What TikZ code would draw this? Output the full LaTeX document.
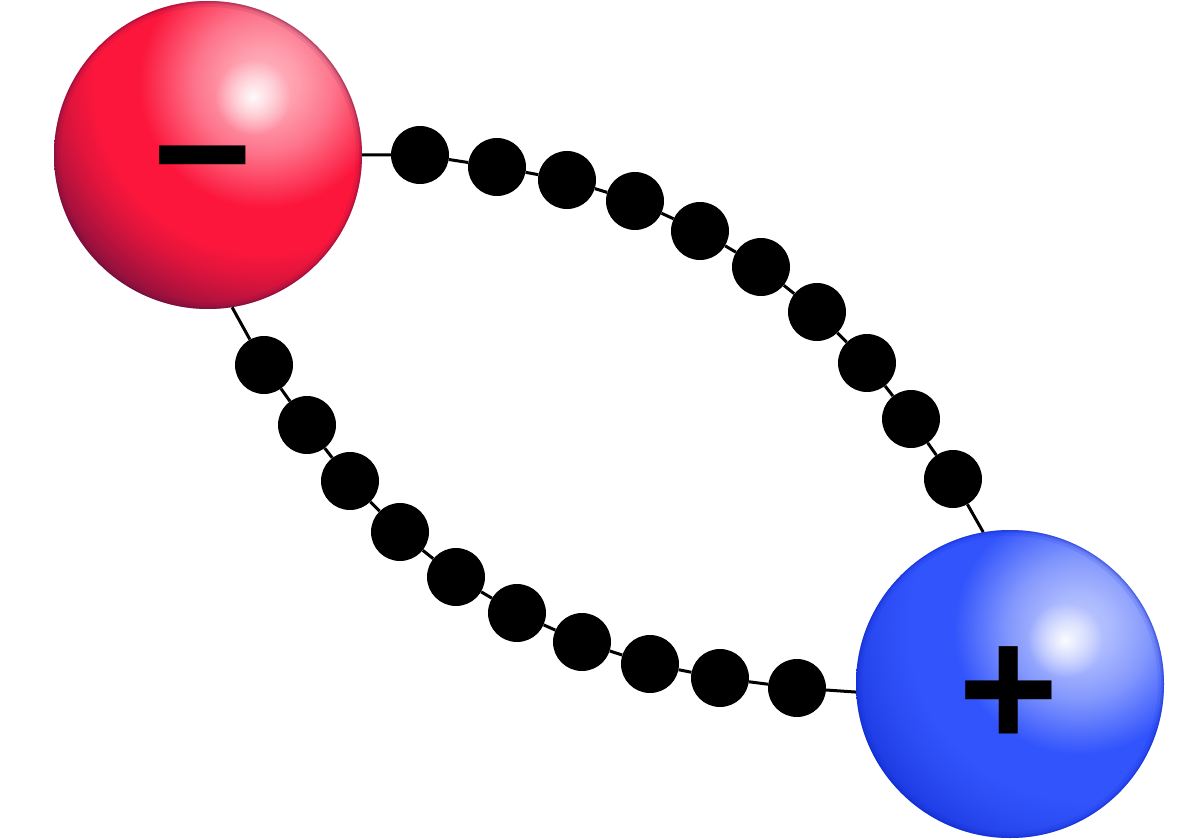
\documentclass[tikz,border=0pt]{standalone}
\usepackage{fontspec}
\usetikzlibrary{fadings}
\newfontfamily\signfont{Liberation Sans}
\definecolor{redmain}{RGB}{252,22,60}
\definecolor{reddark}{RGB}{96,14,62}
\definecolor{bluemain}{RGB}{50,84,252}
\definecolor{bluedark}{RGB}{10,34,200}
\pgfdeclareradialshading{redbase}{\pgfpointorigin}{%
  color(0bp)=(redmain!30!white); color(3.5bp)=(redmain!42!white); color(7bp)=(redmain!60!white);
  color(10bp)=(redmain!82!white); color(12.5bp)=(redmain); color(17bp)=(redmain);
  color(19.5bp)=(redmain!82!reddark); color(21.5bp)=(redmain!62!reddark); color(23.5bp)=(redmain!40!reddark);
  color(25bp)=(redmain!25!reddark); color(50bp)=(redmain!25!reddark)}
\pgfdeclareradialshading{bluebase}{\pgfpointorigin}{%
  color(0bp)=(bluemain!30!white); color(3.5bp)=(bluemain!42!white); color(7bp)=(bluemain!60!white);
  color(10bp)=(bluemain!82!white); color(12.5bp)=(bluemain); color(17bp)=(bluemain);
  color(19.5bp)=(bluemain!86!bluedark); color(21.5bp)=(bluemain!72!bluedark); color(23.5bp)=(bluemain!55!bluedark);
  color(25bp)=(bluemain!42!bluedark); color(50bp)=(bluemain!42!bluedark)}
\tikzfading[name=glow, inner color=transparent!0, outer color=transparent!100]
\tikzset{
  sphere/.style={circle, minimum size=308pt, inner sep=0pt},
  bead/.style={circle, fill=black, minimum size=58pt, inner sep=0pt},
  chain/.style={draw=black, line width=3pt},
  signlabel/.style={inner sep=0pt, text=black, font=\signfont\bfseries\fontsize{172}{172}\selectfont}
}
\begin{document}
\begin{tikzpicture}[x=1pt,y=-1pt]
\useasboundingbox (0,0) rectangle (1200,840);
\fill[white] (0,0) rectangle (1200,840);
% spheres (nodes for anchors)
\node[sphere] (red) at (208,155) {};
\node[sphere] (blue) at (1010,684) {};
\coordinate (redglow) at (264,83);
\coordinate (redhi) at (253,97);
\coordinate (blueglow) at (1079,629);
\coordinate (bluehi) at (1065,640);
\begin{scope}
  \clip (red.center) circle (154);
  \shade[shading=redbase] (redglow) circle (250);
  \fill[white, path fading=glow, opacity=0.95] (redhi) circle (38);
  \draw[reddark, line width=12pt, opacity=0.10] (red.center) circle (154);
  \draw[reddark, line width=6pt, opacity=0.16] (red.center) circle (154);
  \draw[reddark, line width=2.5pt, opacity=0.28] (red.center) circle (154);
\end{scope}
\begin{scope}
  \clip (blue.center) circle (154);
  \shade[shading=bluebase] (blueglow) circle (250);
  \fill[white, path fading=glow, opacity=0.95] (bluehi) circle (38);
  \draw[bluedark, line width=12pt, opacity=0.10] (blue.center) circle (154);
  \draw[bluedark, line width=6pt, opacity=0.16] (blue.center) circle (154);
  \draw[bluedark, line width=2.5pt, opacity=0.28] (blue.center) circle (154);
\end{scope}
% upper chain beads
\node[bead] (u1) at (420,155) {};
\node[bead] (u2) at (497,167) {};
\node[bead] (u3) at (567,180) {};
\node[bead] (u4) at (635,201) {};
\node[bead] (u5) at (700,231) {};
\node[bead] (u6) at (761,267) {};
\node[bead] (u7) at (817,312) {};
\node[bead] (u8) at (867,363) {};
\node[bead] (u9) at (911,419) {};
\node[bead] (u10) at (953,479) {};
% lower chain beads
\node[bead] (l1) at (264,365) {};
\node[bead] (l2) at (307,425) {};
\node[bead] (l3) at (350,481) {};
\node[bead] (l4) at (400,532) {};
\node[bead] (l5) at (456,577) {};
\node[bead] (l6) at (517,613) {};
\node[bead] (l7) at (582,642) {};
\node[bead] (l8) at (650,664) {};
\node[bead] (l9) at (720,678) {};
\node[bead] (l10) at (797,688) {};
% connectors
\draw[chain] (red.0) -- (u1) -- (u2) -- (u3) -- (u4) -- (u5) -- (u6) -- (u7) -- (u8) -- (u9) -- (u10) -- (blue.100);
\draw[chain] (red.-81) -- (l1) -- (l2) -- (l3) -- (l4) -- (l5) -- (l6) -- (l7) -- (l8) -- (l9) -- (l10) -- (blue.183);
% signs
\node[signlabel] (minus) at (203,179) {−};
\node[signlabel] (plus) at (1009,697) {+};
\end{tikzpicture}
\end{document}
